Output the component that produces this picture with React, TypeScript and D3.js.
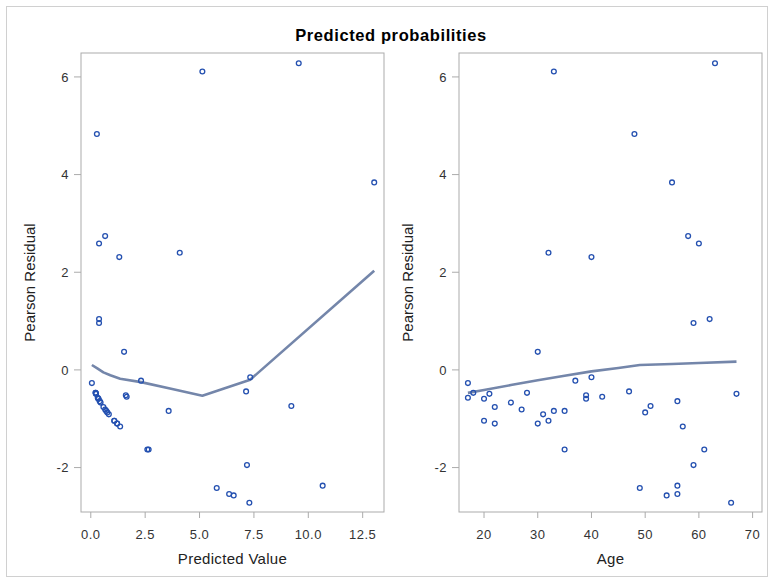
import * as d3 from "d3";

// observations (one row per subject)
const age = [17, 17, 18, 20, 20, 21, 22, 22, 25, 27, 28, 30, 30, 31, 32, 32, 33, 33, 35, 35, 37, 39, 39, 40, 40, 42, 47, 48, 49, 50, 51, 54, 55, 56, 56, 56, 57, 58, 59, 59, 60, 61, 62, 63, 66, 67];
const residual = [-0.27, -0.57, -0.47, -0.59, -1.04, -0.49, -0.76, -1.1, -0.67, -0.81, -0.47, 0.37, -1.1, -0.91, 2.4, -1.04, 6.11, -0.84, -0.84, -1.63, -0.22, -0.52, -0.59, 2.31, -0.15, -0.55, -0.44, 4.83, -2.42, -0.87, -0.74, -2.57, 3.84, -2.37, -2.54, -0.64, -1.16, 2.74, 0.96, -1.95, 2.59, -1.63, 1.04, 6.28, -2.72, -0.49];
const predicted = [0.05, 0.32, 0.22, 0.35, 1.08, 0.24, 0.58, 1.21, 0.45, 0.66, 0.22, 1.53, 1.21, 0.83, 4.09, 1.08, 5.13, 0.71, 3.58, 2.6, 2.31, 1.61, 0.35, 1.31, 7.33, 1.65, 7.14, 0.28, 5.79, 0.76, 9.22, 6.57, 13.03, 10.66, 6.36, 0.41, 1.35, 0.66, 0.38, 7.18, 0.38, 2.66, 0.38, 9.56, 7.29, 0.24];

// loess smooths
const predLoessX = [0.05, 0.3, 0.58, 0.9, 1.35, 2.31, 3.64, 5.13, 7.33, 13.03];
const predLoessY = [0.1, 0.03, -0.05, -0.11, -0.18, -0.25, -0.38, -0.53, -0.2, 2.03];
const ageLoessX = [17, 20, 25, 30, 35, 40, 45, 49, 55, 60, 67];
const ageLoessY = [-0.47, -0.41, -0.31, -0.21, -0.12, -0.03, 0.04, 0.1, 0.12, 0.14, 0.17];

const predTicks = [0, 2.5, 5, 7.5, 10, 12.5];
const ageTicks = [20, 30, 40, 50, 60, 70];
const residTicks = [-2, 0, 2, 4, 6];

const font = "'Liberation Sans', Arial, sans-serif";
const yDomain: [number, number] = [-2.91, 6.49];

function Panel(props: {
  left: number;
  right: number;
  xDomain: [number, number];
  xs: number[];
  lx: number[];
  ly: number[];
  xTicks: number[];
  fmt: (v: number) => string;
  xLabel: string;
}) {
  const { left, right, xDomain, xs, lx, ly, xTicks, fmt, xLabel } = props;
  const top = 53;
  const bottom = 512;
  const x = d3.scaleLinear().domain(xDomain).range([left, right]);
  const y = d3.scaleLinear().domain(yDomain).range([bottom, top]);
  const line = d3
    .line<number>()
    .x((d) => x(d))
    .y((_, i) => y(ly[i]));

  return (
    <g fontFamily={font}>
      <rect x={left} y={top} width={right - left} height={bottom - top} fill="none" stroke="#ababab" />
      {residTicks.map((t) => (
        <g key={t}>
          <line x1={left - 7} x2={left} y1={y(t)} y2={y(t)} stroke="#ababab" />
          <text x={left - 12} y={y(t)} dy="0.36em" textAnchor="end" fontSize={13} letterSpacing={0.5} fill="#333">
            {String(t)}
          </text>
        </g>
      ))}
      {xTicks.map((t) => (
        <g key={t}>
          <line x1={x(t)} x2={x(t)} y1={bottom} y2={bottom + 6} stroke="#ababab" />
          <text x={x(t)} y={539} textAnchor="middle" fontSize={13} letterSpacing={0.5} fill="#333">
            {fmt(t)}
          </text>
        </g>
      ))}
      <text x={(left + right) / 2} y={564} textAnchor="middle" fontSize={15} letterSpacing={0.3} fill="#222">
        {xLabel}
      </text>
      <text
        transform={`translate(${left - 46},${(top + bottom) / 2}) rotate(-90)`}
        textAnchor="middle"
        fontSize={15}
        fill="#222"
      >
        Pearson Residual
      </text>
      <path d={line(lx) ?? ""} fill="none" stroke="#7486aa" strokeWidth={2.6} strokeLinejoin="round" />
      {xs.map((v, i) => (
        <circle key={i} cx={x(v)} cy={y(residual[i])} r={2.4} fill="none" stroke="#2450b0" strokeWidth={1.3} />
      ))}
    </g>
  );
}

export default function App() {
  return (
    <svg width={772} height={580} style={{ position: "absolute", left: 0, top: 0 }}>
      <rect x={0} y={0} width={772} height={580} fill="#fff" />
      <rect x={6.5} y={6.5} width={761} height={570} fill="none" stroke="#d0d0d0" />
      <text
        x={391}
        y={41}
        textAnchor="middle"
        fontSize={16.5}
        letterSpacing={0.6}
        fontWeight="bold"
        fontFamily={font}
        fill="#000"
      >
        Predicted probabilities
      </text>
      <Panel
        left={81}
        right={384}
        xDomain={[-0.45, 13.48]}
        xs={predicted}
        lx={predLoessX}
        ly={predLoessY}
        xTicks={predTicks}
        fmt={d3.format(".1f")}
        xLabel="Predicted Value"
      />
      <Panel
        left={459}
        right={762}
        xDomain={[15.34, 71.75]}
        xs={age}
        lx={ageLoessX}
        ly={ageLoessY}
        xTicks={ageTicks}
        fmt={(v) => String(v)}
        xLabel="Age"
      />
    </svg>
  );
}
